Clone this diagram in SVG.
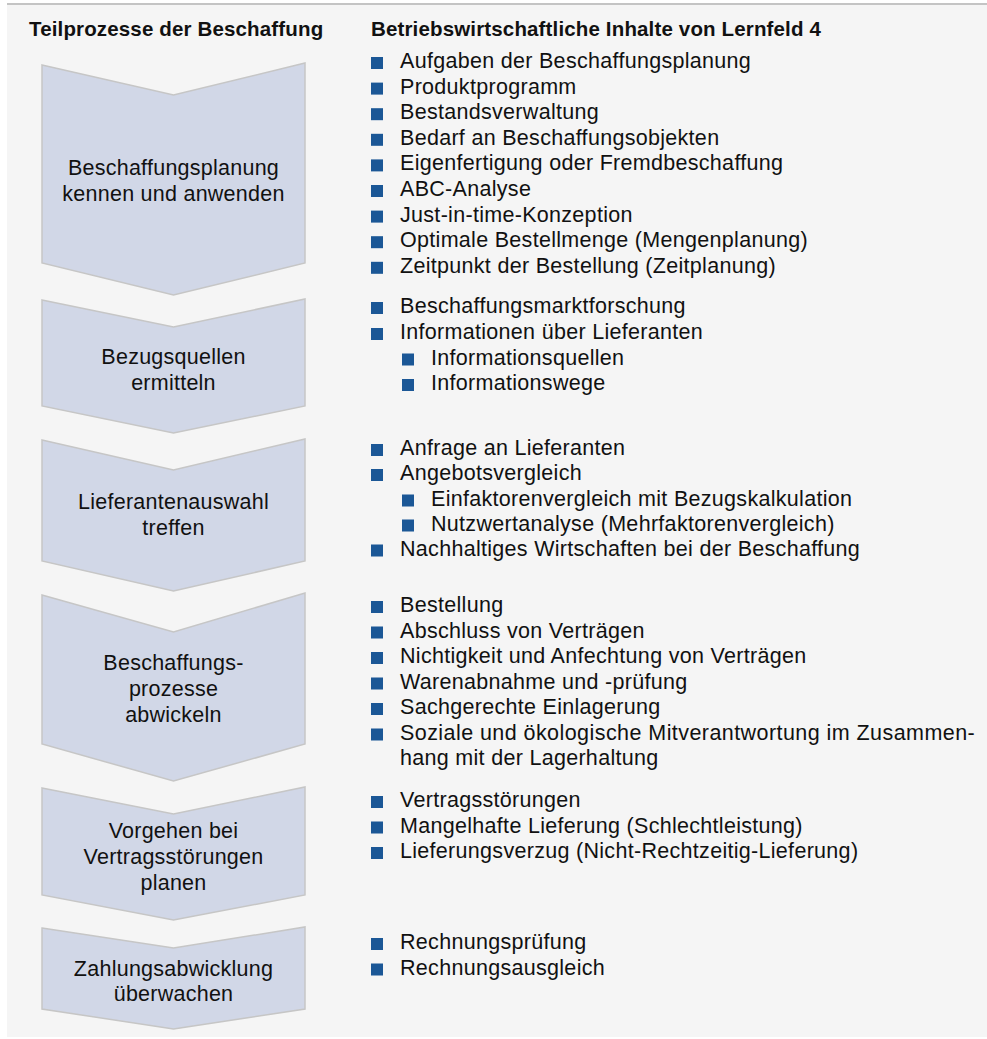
<svg xmlns="http://www.w3.org/2000/svg" width="987" height="1039" viewBox="0 0 987 1039">
<style>
.hd{font-family:"Liberation Sans",Arial,sans-serif;font-weight:bold;font-size:20.5px;fill:#111;letter-spacing:0.15px}
.t{font-family:"Liberation Sans",Arial,sans-serif;font-size:21.5px;fill:#111;letter-spacing:0.3px}
.c{font-family:"Liberation Sans",Arial,sans-serif;font-size:21.5px;fill:#111;text-anchor:middle;letter-spacing:0.25px}
.chev{fill:#d1d7e7;stroke:#c6c6c6;stroke-width:1.5;stroke-linejoin:miter}
.b{fill:#1b5796}
</style>
<rect x="7" y="4" width="980" height="1033" fill="#f5f5f5"/>
<line x1="7" y1="4" x2="987" y2="4" stroke="#c4c4c4" stroke-width="2"/>
<text class="hd" x="29" y="36">Teilprozesse der Beschaffung</text>
<text class="hd" x="371" y="36">Betriebswirtschaftliche Inhalte von Lernfeld 4</text>

<g id="node1">
<polygon class="chev" points="42,65 173.5,95 305,63 305,263 173.5,295 42,263"/>
<text class="c" x="173.5" y="175">Beschaffungsplanung</text>
<text class="c" x="173.5" y="201">kennen und anwenden</text>
</g>
<g id="node2">
<polygon class="chev" points="42,300 173.5,327 305,299 305,406 173.5,433 42,406"/>
<text class="c" x="173.5" y="364">Bezugsquellen</text>
<text class="c" x="173.5" y="390">ermitteln</text>
</g>
<g id="node3">
<polygon class="chev" points="42,440 173.5,470 305,439 305,561 173.5,591 42,561"/>
<text class="c" x="173.5" y="509">Lieferantenauswahl</text>
<text class="c" x="173.5" y="535">treffen</text>
</g>
<g id="node4">
<polygon class="chev" points="42,595 173.5,632 305,593 305,744 173.5,781 42,744"/>
<text class="c" x="173.5" y="670">Beschaffungs-</text>
<text class="c" x="173.5" y="696">prozesse</text>
<text class="c" x="173.5" y="722">abwickeln</text>
</g>
<g id="node5">
<polygon class="chev" points="42,788 173.5,814 305,787 305,895 173.5,920 42,895"/>
<text class="c" x="173.5" y="838">Vorgehen bei</text>
<text class="c" x="173.5" y="864">Vertragsstörungen</text>
<text class="c" x="173.5" y="890">planen</text>
</g>
<g id="node6">
<polygon class="chev" points="42,928 173.5,948 305,927 305,1009 173.5,1029 42,1009"/>
<text class="c" x="173.5" y="976">Zahlungsabwicklung</text>
<text class="c" x="173.5" y="1001">überwachen</text>
</g>

<g id="list1">
<rect class="b" x="371" y="57" width="12" height="12"/><text class="t" x="400" y="68">Aufgaben der Beschaffungsplanung</text>
<rect class="b" x="371" y="82.6" width="12" height="12"/><text class="t" x="400" y="93.6">Produktprogramm</text>
<rect class="b" x="371" y="108.2" width="12" height="12"/><text class="t" x="400" y="119.2">Bestandsverwaltung</text>
<rect class="b" x="371" y="133.8" width="12" height="12"/><text class="t" x="400" y="144.8">Bedarf an Beschaffungsobjekten</text>
<rect class="b" x="371" y="159.4" width="12" height="12"/><text class="t" x="400" y="170.4">Eigenfertigung oder Fremdbeschaffung</text>
<rect class="b" x="371" y="185" width="12" height="12"/><text class="t" x="400" y="196">ABC-Analyse</text>
<rect class="b" x="371" y="210.6" width="12" height="12"/><text class="t" x="400" y="221.6">Just-in-time-Konzeption</text>
<rect class="b" x="371" y="236.2" width="12" height="12"/><text class="t" x="400" y="247.2">Optimale Bestellmenge (Mengenplanung)</text>
<rect class="b" x="371" y="261.8" width="12" height="12"/><text class="t" x="400" y="272.8">Zeitpunkt der Bestellung (Zeitplanung)</text>
</g>
<g id="list2">
<rect class="b" x="371" y="302" width="12" height="12"/><text class="t" x="400" y="313">Beschaffungsmarktforschung</text>
<rect class="b" x="371" y="328" width="12" height="12"/><text class="t" x="400" y="339">Informationen über Lieferanten</text>
<rect class="b" x="402" y="353.5" width="12" height="12"/><text class="t" x="431" y="364.5">Informationsquellen</text>
<rect class="b" x="402" y="379" width="12" height="12"/><text class="t" x="431" y="390">Informationswege</text>
</g>
<g id="list3">
<rect class="b" x="371" y="444" width="12" height="12"/><text class="t" x="400" y="455">Anfrage an Lieferanten</text>
<rect class="b" x="371" y="469" width="12" height="12"/><text class="t" x="400" y="480">Angebotsvergleich</text>
<rect class="b" x="402" y="494.5" width="12" height="12"/><text class="t" x="431" y="505.5">Einfaktorenvergleich mit Bezugskalkulation</text>
<rect class="b" x="402" y="519.5" width="12" height="12"/><text class="t" x="431" y="530.5">Nutzwertanalyse (Mehrfaktorenvergleich)</text>
<rect class="b" x="371" y="544.5" width="12" height="12"/><text class="t" x="400" y="555.5">Nachhaltiges Wirtschaften bei der Beschaffung</text>
</g>
<g id="list4">
<rect class="b" x="371" y="601" width="12" height="12"/><text class="t" x="400" y="612">Bestellung</text>
<rect class="b" x="371" y="626.5" width="12" height="12"/><text class="t" x="400" y="637.5">Abschluss von Verträgen</text>
<rect class="b" x="371" y="652" width="12" height="12"/><text class="t" x="400" y="663">Nichtigkeit und Anfechtung von Verträgen</text>
<rect class="b" x="371" y="677.5" width="12" height="12"/><text class="t" x="400" y="688.5">Warenabnahme und -prüfung</text>
<rect class="b" x="371" y="703" width="12" height="12"/><text class="t" x="400" y="714">Sachgerechte Einlagerung</text>
<rect class="b" x="371" y="728.5" width="12" height="12"/><text class="t" x="400" y="739.5" textLength="575" lengthAdjust="spacing">Soziale und ökologische Mitverantwortung im Zusammen-</text>
<text class="t" x="400" y="765">hang mit der Lagerhaltung</text>
</g>
<g id="list5">
<rect class="b" x="371" y="796" width="12" height="12"/><text class="t" x="400" y="807">Vertragsstörungen</text>
<rect class="b" x="371" y="821.5" width="12" height="12"/><text class="t" x="400" y="832.5">Mangelhafte Lieferung (Schlechtleistung)</text>
<rect class="b" x="371" y="847" width="12" height="12"/><text class="t" x="400" y="858">Lieferungsverzug (Nicht-Rechtzeitig-Lieferung)</text>
</g>
<g id="list6">
<rect class="b" x="371" y="938" width="12" height="12"/><text class="t" x="400" y="949">Rechnungsprüfung</text>
<rect class="b" x="371" y="963.5" width="12" height="12"/><text class="t" x="400" y="974.5">Rechnungsausgleich</text>
</g>
<g id="connectors"></g>
</svg>
